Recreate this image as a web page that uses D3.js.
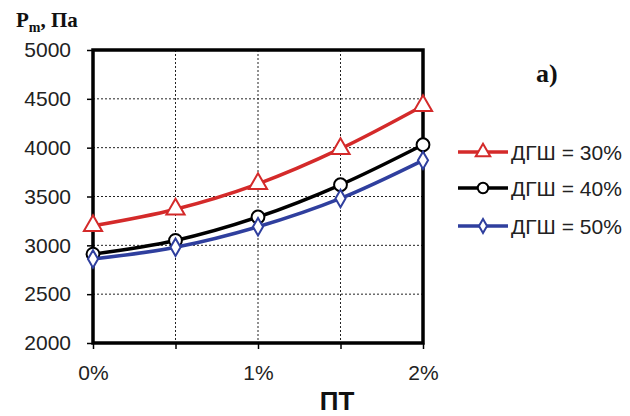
<!DOCTYPE html>
<html>
<head>
<meta charset="utf-8">
<script src="https://cdn.jsdelivr.net/npm/d3@7"></script>
<style>
  html, body { margin: 0; padding: 0; background: #fff; }
  svg { display: block; }
</style>
</head>
<body>
<svg id="chart" width="630" height="416"></svg>
<script>
// Data: pressure Pm (Pa) versus ПТ (%), for three ДГШ levels
const xValues = [0, 0.5, 1, 1.5, 2];
const xTickValues = [0, 1, 2];
const xTickLabels = ["0%", "1%", "2%"];
const yTickValues = [2000, 2500, 3000, 3500, 4000, 4500, 5000];
const seriesNames = ["ДГШ = 30%", "ДГШ = 40%", "ДГШ = 50%"];
const dgsh30 = [3200, 3370, 3630, 3990, 4430];
const dgsh40 = [2910, 3050, 3290, 3620, 4030];
const dgsh50 = [2860, 2980, 3190, 3480, 3870];
const seriesColors = ["#d42a2a", "#000000", "#2f3f9e"];
const seriesMarkers = ["triangle", "circle", "diamond"];

const series = [dgsh30, dgsh40, dgsh50].map((vals, i) => ({
  name: seriesNames[i],
  color: seriesColors[i],
  marker: seriesMarkers[i],
  points: vals.map((v, j) => ({ x: xValues[j], y: v }))
}));

const sans = "Liberation Sans, Arial, sans-serif";
const serif = "Liberation Serif, Times New Roman, serif";

const svg = d3.select("#chart");
const plot = { left: 93, right: 423, top: 50, bottom: 343 };

const x = d3.scaleLinear().domain([0, 2]).range([plot.left, plot.right]);
const y = d3.scaleLinear().domain([2000, 5000]).range([plot.bottom, plot.top]);

// Dotted grid
const grid = svg.append("g");
grid.selectAll("line.h").data(yTickValues.slice(1, -1)).join("line")
  .attr("x1", plot.left).attr("x2", plot.right)
  .attr("y1", d => y(d)).attr("y2", d => y(d))
  .attr("stroke", "#222").attr("stroke-width", 1).attr("stroke-dasharray", "2,2");
grid.selectAll("line.v").data(xValues.slice(1, -1)).join("line")
  .attr("y1", plot.top).attr("y2", plot.bottom)
  .attr("x1", d => x(d)).attr("x2", d => x(d))
  .attr("stroke", "#222").attr("stroke-width", 1).attr("stroke-dasharray", "2,2");

// Axes
const yAxis = d3.axisLeft(y).tickValues(yTickValues).tickFormat(d3.format("d")).tickSize(6).tickPadding(16);
const gy = svg.append("g").attr("transform", `translate(${plot.left},0)`).call(yAxis);
gy.select(".domain").remove();
gy.selectAll("line").attr("stroke", "#000").attr("stroke-width", 1.5);
gy.selectAll("text").attr("font-family", sans)
  .attr("font-size", 21).attr("fill", "#222");

const xAxisTicks = d3.axisBottom(x).tickValues(xValues).tickFormat("").tickSize(6);
const gxt = svg.append("g").attr("transform", `translate(0,${plot.bottom})`).call(xAxisTicks);
gxt.select(".domain").remove();
gxt.selectAll("line").attr("stroke", "#000").attr("stroke-width", 1.5);

const xAxisLabels = d3.axisBottom(x).tickValues(xTickValues)
  .tickFormat((d, i) => xTickLabels[i]).tickSize(0).tickPadding(22);
const gx = svg.append("g").attr("transform", `translate(0,${plot.bottom})`).call(xAxisLabels);
gx.select(".domain").remove();
gx.selectAll("text").attr("font-family", sans)
  .attr("font-size", 21).attr("fill", "#222");

// Plot frame
svg.append("rect")
  .attr("x", plot.left).attr("y", plot.top)
  .attr("width", plot.right - plot.left).attr("height", plot.bottom - plot.top)
  .attr("fill", "none").attr("stroke", "#000").attr("stroke-width", 3.5);

// Marker drawing
function drawMarker(g, type, color, size) {
  if (type === "triangle") {
    g.append("path").attr("d", d3.symbol().type(d3.symbolTriangle).size(size * 1.3)())
      .attr("fill", "#fff").attr("stroke", color).attr("stroke-width", 2);
  } else if (type === "circle") {
    g.append("circle").attr("r", Math.sqrt(size / Math.PI) + 0.5)
      .attr("fill", "#fff").attr("stroke", color).attr("stroke-width", 2);
  } else {
    g.append("path").attr("d", d3.symbol().type(d3.symbolDiamond).size(size * 0.8)())
      .attr("fill", "#fff").attr("stroke", color).attr("stroke-width", 2);
  }
}

const line = d3.line().x(d => x(d.x)).y(d => y(d.y)).curve(d3.curveMonotoneX);

series.forEach(s => {
  svg.append("path").datum(s.points)
    .attr("d", line).attr("fill", "none")
    .attr("stroke", s.color).attr("stroke-width", 3.5);
  s.points.forEach(p => {
    const g = svg.append("g").attr("transform", `translate(${x(p.x)},${y(p.y)})`);
    drawMarker(g, s.marker, s.color, 110);
  });
});

// Legend
const legend = svg.append("g");
const legendRows = [152, 188, 226];
series.forEach((s, i) => {
  const ly = legendRows[i];
  legend.append("line").attr("x1", 458).attr("x2", 508).attr("y1", ly).attr("y2", ly)
    .attr("stroke", s.color).attr("stroke-width", 3.5);
  const g = legend.append("g").attr("transform", `translate(483,${ly})`);
  drawMarker(g, s.marker, s.color, 70);
  legend.append("text").attr("x", 511).attr("y", ly).attr("dy", "0.36em")
    .attr("font-family", sans)
    .attr("font-size", 21).attr("fill", "#222").text(s.name);
});

// Axis titles
const yTitle = svg.append("text").attr("x", 16).attr("y", 27)
  .attr("font-family", serif)
  .attr("font-weight", "bold").attr("font-size", 21).attr("fill", "#111");
yTitle.append("tspan").text("P");
yTitle.append("tspan").attr("font-size", 14).attr("dy", 5).text("m");
yTitle.append("tspan").attr("dy", -5).text(", Па");

svg.append("text").attr("x", 337).attr("y", 410).attr("text-anchor", "middle")
  .attr("font-family", sans)
  .attr("font-weight", "bold").attr("font-size", 26).attr("fill", "#111").text("ПТ");

svg.append("text").attr("x", 536).attr("y", 82)
  .attr("font-family", serif)
  .attr("font-weight", "bold").attr("font-size", 26).attr("fill", "#111").text("а)");
</script>
</body>
</html>
